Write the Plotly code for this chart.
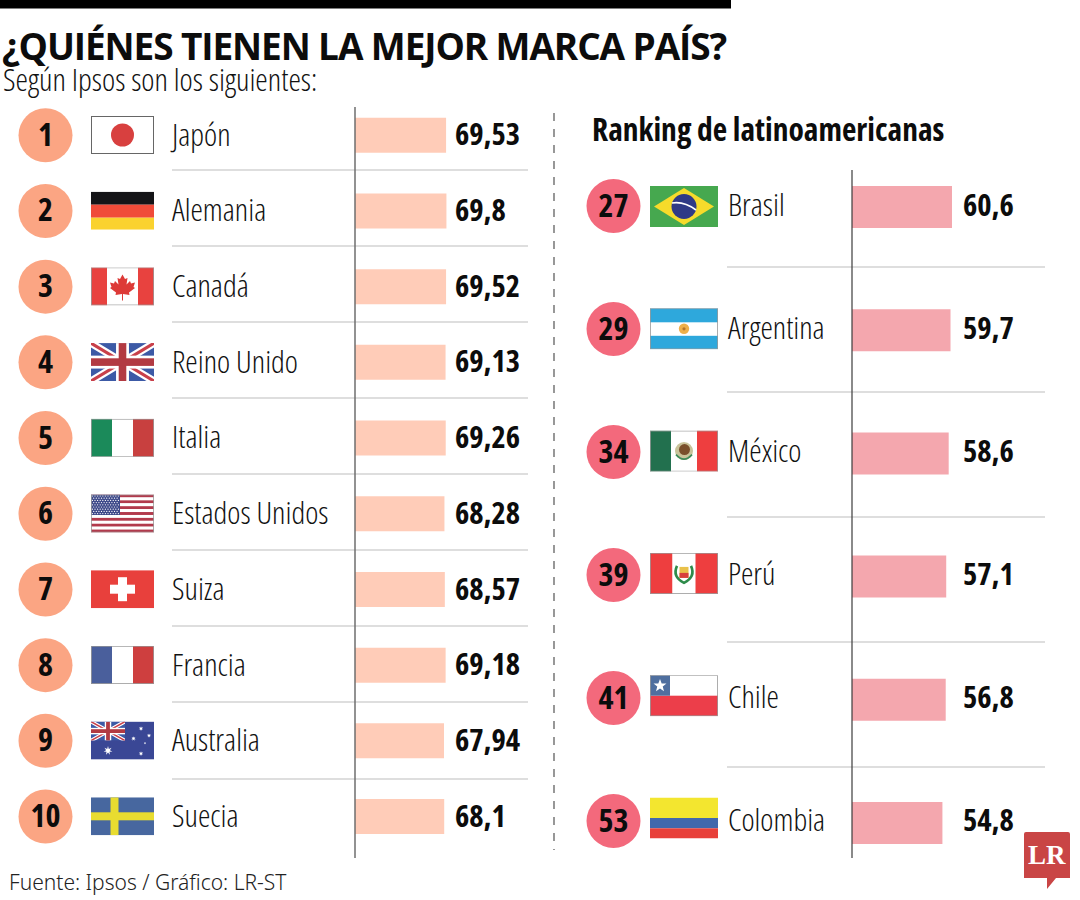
import base64, math
import plotly.graph_objects as go

TITLE = "¿QUIÉNES TIENEN LA MEJOR MARCA PAÍS?"
SUBTITLE = "Según Ipsos son los siguientes:"
RIGHT_TITLE = "Ranking de latinoamericanas"
SOURCE = "Fuente: Ipsos / Gráfico: LR-ST"

top_countries = ["Japón", "Alemania", "Canadá", "Reino Unido", "Italia",
                 "Estados Unidos", "Suiza", "Francia", "Australia", "Suecia"]
top_ranks = [1, 2, 3, 4, 5, 6, 7, 8, 9, 10]
top_values = [69.53, 69.8, 69.52, 69.13, 69.26, 68.28, 68.57, 69.18, 67.94, 68.1]

latam_countries = ["Brasil", "Argentina", "México", "Perú", "Chile", "Colombia"]
latam_ranks = [27, 29, 34, 39, 41, 53]
latam_values = [60.6, 59.7, 58.6, 57.1, 56.8, 54.8]

W, H = 1080, 900
COND = "Open Sans"
X = lambda p: p / W
Y = lambda p: 1 - p / H


def star(cx, cy, r, n=5, inner=0.42, rot=-90):
    pts = []
    for i in range(n * 2):
        rr = r if i % 2 == 0 else r * inner
        a = math.radians(rot + i * 180 / n)
        pts.append(f"{cx + rr * math.cos(a):.2f},{cy + rr * math.sin(a):.2f}")
    return f'<polygon points="{" ".join(pts)}" fill="#fff"/>'


def rect(x, y, w, h, c):
    return f'<rect x="{x}" y="{y}" width="{w}" height="{h}" fill="{c}"/>'


def border(w, h, c="#999", sw=.8):
    return f'<rect x="{sw / 2}" y="{sw / 2}" width="{w - sw}" height="{h - sw}" fill="none" stroke="{c}" stroke-width="{sw}"/>'


def union(w, h):
    sw = h * 0.2
    return (rect(0, 0, w, h, "#3C5AA6")
            + f'<path d="M0 0L{w} {h}M{w} 0L0 {h}" stroke="#fff" stroke-width="{sw}"/>'
            + f'<path d="M0 0L{w} {h}M{w} 0L0 {h}" stroke="#C8404A" stroke-width="{sw * 0.4}"/>'
            + rect(w / 2 - h * .17, 0, h * .34, h, "#fff") + rect(0, h / 2 - h * .17, w, h * .34, "#fff")
            + rect(w / 2 - h * .1, 0, h * .2, h, "#B23A42") + rect(0, h / 2 - h * .1, w, h * .2, "#B23A42"))


def flag_japan():
    return rect(0, 0, 63, 38, "#fff") + border(63, 38, "#666", 1) + '<circle cx="31.5" cy="19" r="11.5" fill="#D8403F"/>'


def flag_germany():
    return rect(0, 0, 63, 13, "#141417") + rect(0, 13, 63, 13, "#F04B39") + rect(0, 26, 63, 12, "#FAD22F")


def flag_canada():
    leaf = ("M31.5 7L34 11.5L36.5 10.5L35.5 17L39 13.5L40 16L44 15L42.5 19.5L44 20.5L38 25L38.5 27.5"
            "L32 26.5L32 33L31 33L31 26.5L24.5 27.5L25 25L19 20.5L20.5 19.5L19 15L23 16L24 13.5L27.5 17L26.5 10.5L29 11.5Z")
    return rect(0, 0, 63, 38, "#fff") + rect(0, 0, 16, 38, "#E8423F") + rect(47, 0, 16, 38, "#E8423F") + f'<path d="{leaf}" fill="#DD3A37"/>' + border(63, 38)


def flag_uk():
    return union(63, 38)


def flag_italy():
    return rect(0, 0, 21, 38, "#1B8A5A") + rect(21, 0, 21, 38, "#fff") + rect(42, 0, 21, 38, "#C8403F") + border(63, 38)


def flag_us():
    s = ""
    for i in range(13):
        s += rect(0, i * 38 / 13, 63, 38 / 13 + .05, "#B23A4C" if i % 2 == 0 else "#fff")
    s += rect(0, 0, 29, 20.5, "#3E4A8A")
    for r in range(9):
        for c in range(11 if r % 2 == 0 else 10):
            x = 1.4 + c * 2.6 + (0 if r % 2 == 0 else 1.3)
            s += f'<circle cx="{x:.1f}" cy="{1.5 + r * 2.2:.1f}" r=".62" fill="#fff"/>'
    return s + border(63, 38)


def flag_switzerland():
    return rect(0, 0, 63, 38, "#E8403C") + rect(27, 7, 9, 24, "#fff") + rect(19, 14.5, 25, 9, "#fff")


def flag_france():
    return rect(0, 0, 21, 38, "#4A5F9C") + rect(21, 0, 21, 38, "#fff") + rect(42, 0, 21, 38, "#CE3F3F") + border(63, 38)


def flag_australia():
    return (rect(0, 0, 63, 38, "#3A4795") + f'<svg x="0" y="0" width="34" height="19" viewBox="0 0 34 19">{union(34, 19)}</svg>'
            + star(17, 29, 4.5, n=7) + star(50, 7, 2.4, n=7) + star(42.5, 17, 2.4, n=7)
            + star(58, 14, 2.2, n=7) + star(50, 32, 2.4, n=7) + star(54, 21.5, 1.3))


def flag_sweden():
    return rect(0, 0, 63, 38, "#47679F") + rect(19.5, 0, 8, 38, "#E8DC30") + rect(0, 15, 63, 8, "#E8DC30")


def flag_brazil():
    return (rect(0, 0, 68, 41, "#46A84F") + '<polygon points="34,2 64,20.5 34,39 4,20.5" fill="#F6DB2B"/>'
            + '<circle cx="34" cy="20.5" r="12.5" fill="#2F3A86"/>'
            + '<path d="M22 17Q34 15 46 24" stroke="#fff" stroke-width="1.6" fill="none"/>')


def flag_argentina():
    return (rect(0, 0, 68, 41, "#2EA8DC") + rect(0, 14, 68, 13.5, "#fff")
            + '<circle cx="34" cy="20.5" r="5.2" fill="#EFB04A"/><circle cx="34" cy="20.5" r="1.6" fill="#B8762A"/>' + border(68, 41))


def flag_mexico():
    return (rect(0, 0, 21, 41, "#22704E") + rect(21, 0, 26, 41, "#fff") + rect(47, 0, 21, 41, "#EE3E3F")
            + '<circle cx="34" cy="20.5" r="9" fill="#C9C39A"/><circle cx="34.5" cy="19" r="5.5" fill="#7A4F2B"/>'
            + '<path d="M26 24Q34 33 42 24" stroke="#3F8B5A" stroke-width="1.6" fill="none"/>' + border(68, 41))


def flag_peru():
    return (rect(0, 0, 22.5, 41, "#EE3E3F") + rect(22.5, 0, 23, 41, "#fff") + rect(45.5, 0, 22.5, 41, "#EE3E3F")
            + '<path d="M27 13Q22 24 34 30Q46 24 41 13" stroke="#2E8B4A" stroke-width="2.6" fill="none"/>'
            + '<rect x="29.5" y="14" width="9" height="11" fill="#E9C14A"/><rect x="29.5" y="20" width="9" height="5" fill="#D8403C"/>' + border(68, 41))


def flag_chile():
    return (rect(0, 0, 68, 20.5, "#fff") + rect(0, 20.5, 68, 20.5, "#EC3E4A") + rect(0, 0, 20, 20.5, "#4F6F9F")
            + star(10, 10.5, 6.8) + border(68, 41))


def flag_colombia():
    return rect(0, 0, 68, 20.5, "#F3E62F") + rect(0, 20.5, 68, 10.3, "#4268AC") + rect(0, 30.8, 68, 10.2, "#E8403A")


def flag_uri(body, w, h):
    svg = f'<svg xmlns="http://www.w3.org/2000/svg" viewBox="0 0 {w} {h}" preserveAspectRatio="none">{body}</svg>'
    return "data:image/svg+xml;base64," + base64.b64encode(svg.encode()).decode()


top_flags = [flag_japan, flag_germany, flag_canada, flag_uk, flag_italy,
             flag_us, flag_switzerland, flag_france, flag_australia, flag_sweden]
latam_flags = [flag_brazil, flag_argentina, flag_mexico, flag_peru, flag_chile, flag_colombia]

# pixel layout of the two panels
L_X0, L_X1 = 355, 528
L_SCALE = 1.31
L_TOP, L_STEP = 97.4, 75.7
R_X0, R_X1 = 852, 1045
R_SCALE = 1.65
R_TOP, R_STEP = 145.4, 123.2      # bars
RT_TOP, RT_STEP = 144.5, 123.0    # badges
TEXT_DY = 2.5                     # row labels sit slightly below the badge centres
SPLIT = 552
L_BOT = L_TOP + L_STEP * len(top_countries)
R_BOT = R_TOP + R_STEP * len(latam_countries)
RT_BOT = RT_TOP + RT_STEP * len(latam_countries)

fig = go.Figure()
fig.add_trace(go.Bar(x=top_values, y=top_countries, orientation="h", marker=dict(color="#FFCCB8", line_width=0),
                     xaxis="x", yaxis="y", width=0.462, hoverinfo="skip"))
fig.add_trace(go.Bar(x=latam_values, y=latam_countries, orientation="h", marker=dict(color="#F4A7AE", line_width=0),
                     xaxis="x2", yaxis="y2", width=0.341, hoverinfo="skip"))

BADGE_X_L, BADGE_X_R = 45.5, 613.5
fig.add_trace(go.Scatter(x=[BADGE_X_L] * len(top_ranks), y=top_countries, mode="markers",
                         marker=dict(size=54, color="#FBA583", line_width=0),
                         xaxis="x3", yaxis="y", cliponaxis=False, hoverinfo="skip"))
fig.add_trace(go.Scatter(x=[BADGE_X_R] * len(latam_ranks), y=latam_countries, mode="markers",
                         marker=dict(size=54, color="#F3697C", line_width=0),
                         xaxis="x4", yaxis="y3", cliponaxis=False, hoverinfo="skip"))


def labels(xs, ys, strings, size, weight, color, xa, ya, family=COND, pos="middle right"):
    fig.add_trace(go.Scatter(x=xs, y=ys, text=strings, mode="text", textposition=pos,
                             textfont=dict(family=family, size=size, color=color, weight=weight),
                             xaxis=xa, yaxis=ya, cliponaxis=False, hoverinfo="skip"))


fmt = lambda v: str(v).replace(".", ",")
NAME_SIZE, VALUE_SIZE = 31.4, 30.5
labels([BADGE_X_L] * 10, top_countries, [str(r) for r in top_ranks], 32, "bold", "#0c0c0c", "x6", "y5", pos="middle center")
labels([BADGE_X_R] * 6, latam_countries, [str(r) for r in latam_ranks], 32, "bold", "#0c0c0c", "x7", "y6", pos="middle center")
labels([172] * 10, top_countries, top_countries, NAME_SIZE, 300, "#111", "x6", "y5")
labels([455] * 10, top_countries, [fmt(v) for v in top_values], VALUE_SIZE, "bold", "#0c0c0c", "x6", "y5")
labels([728] * 6, latam_countries, latam_countries, NAME_SIZE, 300, "#111", "x7", "y6")
labels([963] * 6, latam_countries, [fmt(v) for v in latam_values], VALUE_SIZE, "bold", "#0c0c0c", "x7", "y6")
labels([2], [50.5], [TITLE], 37, "bold", "#0c0c0c", "x5", "y4")
labels([3], [83], [SUBTITLE], 31.5, 300, "#111", "x5", "y4")
labels([592], [133], [RIGHT_TITLE], 31.5, "bold", "#0c0c0c", "x5", "y4")
labels([9], [884.5], [SOURCE], 21, 300, "#222", "x5", "y4", family="Noto Sans")

ann = [dict(x=X(1047), y=Y(855), xref="paper", yref="paper", text="LR", showarrow=False, xanchor="center",
            yanchor="middle", font=dict(family="Liberation Serif", size=27, color="#fff", weight="bold"))]

shapes = [dict(type="rect", xref="paper", yref="paper", x0=0, x1=X(731), y0=Y(0), y1=Y(8.5),
               fillcolor="#000", line_width=0)]


def line(x0, y0, x1, y1, color, width, dash="solid"):
    shapes.append(dict(type="line", xref="paper", yref="paper", x0=X(x0), x1=X(x1), y0=Y(y0), y1=Y(y1),
                       line=dict(color=color, width=width, dash=dash)))


for y in [170, 246, 322, 398, 474, 550, 626, 702, 779]:
    line(172, y, 528, y, "#BDBDBD", 1.2)
for y in [267, 392, 517, 642, 767]:
    line(727, y, 1045, y, "#BDBDBD", 1.2)
line(355, 107, 355, 858, "#6E6E6E", 1.5)
line(852, 170, 852, 858, "#3C3C3C", 1.2)
line(554, 113, 554, 850, "#444444", 1.1, "8px,8px")
shapes.append(dict(type="path", xref="paper", yref="paper", fillcolor="#C94545", line_width=0,
                   path=f"M {X(1024)} {Y(834)} Q {X(1024)} {Y(832)} {X(1026)} {Y(832)} L {X(1068)} {Y(832)} "
                        f"Q {X(1070)} {Y(832)} {X(1070)} {Y(834)} L {X(1070)} {Y(878)} L {X(1056)} {Y(878)} "
                        f"L {X(1047)} {Y(889)} L {X(1047)} {Y(878)} L {X(1024)} {Y(878)} Z"))

images = []
for i, f in enumerate(top_flags):
    cy = 135 + L_STEP * i
    images.append(dict(source=flag_uri(f(), 63, 38), xref="paper", yref="paper", x=X(91), y=Y(cy - 19),
                       sizex=63 / W, sizey=38 / H, xanchor="left", yanchor="top", sizing="stretch", layer="above"))
for i, f in enumerate(latam_flags):
    cy = 206.5 + 122.3 * i
    images.append(dict(source=flag_uri(f(), 68, 41), xref="paper", yref="paper", x=X(650), y=Y(cy - 20.5),
                       sizex=68 / W, sizey=41 / H, xanchor="left", yanchor="top", sizing="stretch", layer="above"))

hidden = dict(visible=False, fixedrange=True)
fig.update_layout(
    width=W, height=H, margin=dict(l=0, r=0, t=0, b=0), autosize=False,
    paper_bgcolor="#fff", plot_bgcolor="rgba(0,0,0,0)", showlegend=False, barmode="overlay",
    xaxis=dict(domain=[X(L_X0), X(L_X1)], range=[0, (L_X1 - L_X0) / L_SCALE], anchor="y", **hidden),
    xaxis2=dict(domain=[X(R_X0), X(R_X1)], range=[0, (R_X1 - R_X0) / R_SCALE], anchor="y2", **hidden),
    xaxis3=dict(domain=[0, X(SPLIT)], range=[0, SPLIT], anchor="y", **hidden),
    xaxis4=dict(domain=[X(SPLIT), 1], range=[SPLIT, W], anchor="y3", **hidden),
    xaxis5=dict(domain=[0, 1], range=[0, W], anchor="y4", **hidden),
    xaxis6=dict(domain=[0, X(SPLIT)], range=[0, SPLIT], anchor="y5", **hidden),
    xaxis7=dict(domain=[X(SPLIT), 1], range=[SPLIT, W], anchor="y6", **hidden),
    yaxis=dict(domain=[Y(L_BOT), Y(L_TOP)], type="category", categoryorder="array", categoryarray=top_countries,
               range=[len(top_countries) - 0.5, -0.5], anchor="x", **hidden),
    yaxis2=dict(domain=[Y(R_BOT), Y(R_TOP)], type="category", categoryorder="array",
                categoryarray=latam_countries, range=[len(latam_countries) - 0.5, -0.5], anchor="x2", **hidden),
    yaxis3=dict(domain=[Y(RT_BOT), Y(RT_TOP)], type="category", categoryorder="array",
                categoryarray=latam_countries, range=[len(latam_countries) - 0.5, -0.5], anchor="x4", **hidden),
    yaxis4=dict(domain=[0, 1], range=[H, 0], anchor="x5", **hidden),
    yaxis5=dict(domain=[Y(L_BOT + TEXT_DY), Y(L_TOP + TEXT_DY)], type="category", categoryorder="array",
                categoryarray=top_countries, range=[len(top_countries) - 0.5, -0.5], anchor="x6", **hidden),
    yaxis6=dict(domain=[Y(RT_BOT + TEXT_DY), Y(RT_TOP + TEXT_DY)], type="category", categoryorder="array",
                categoryarray=latam_countries, range=[len(latam_countries) - 0.5, -0.5], anchor="x7", **hidden),
    annotations=ann, shapes=shapes, images=images,
)
POST = """
document.body.style.margin='0';
var s=document.createElement('style');
s.textContent="svg text[style*='Open Sans']{font-stretch:75%}"
 + "svg text[style*='Open Sans'][style*='font-size: 37px']{font-stretch:100%;letter-spacing:-1.1px}";
document.head.appendChild(s);
"""
fig.write_html("out.html", config=dict(displayModeBar=False), post_script=POST)
